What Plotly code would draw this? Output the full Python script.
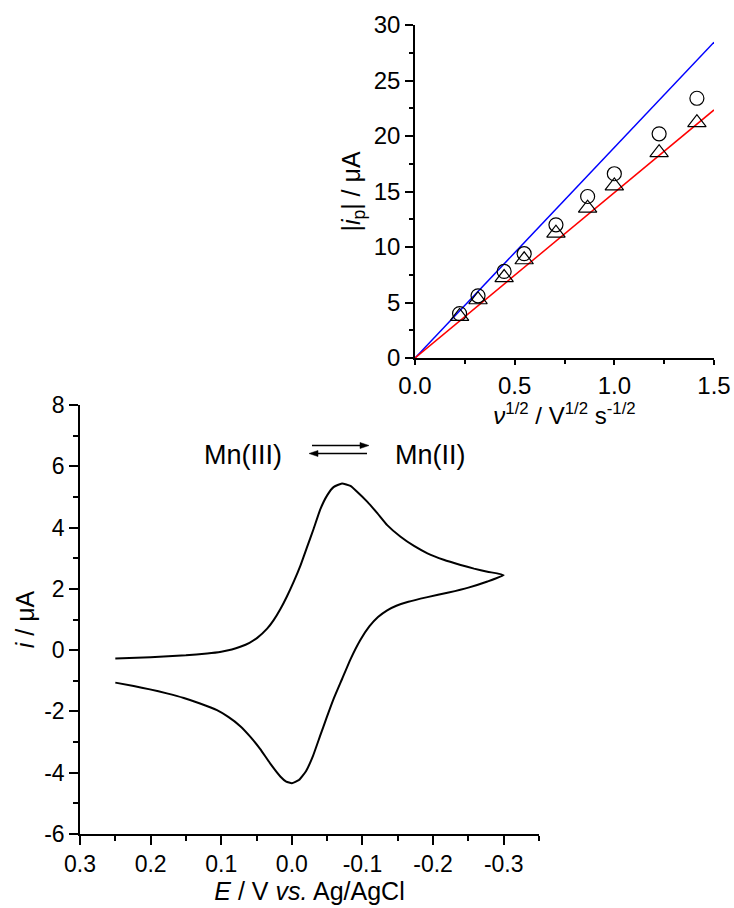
import plotly.graph_objects as go

# ---- Main CV data (E / V vs Ag/AgCl, i / uA) ----
cv_E = [0.250, 0.200, 0.150, 0.120, 0.100, 0.085, 0.073, 0.060, 0.049, 0.035, 0.026, 0.016,
        0.007, -0.003, -0.012, -0.021, -0.031, -0.040, -0.050, -0.059, -0.071, -0.083,
        -0.092, -0.107, -0.121, -0.135, -0.154, -0.173, -0.192, -0.215, -0.239, -0.258,
        -0.277, -0.300,
        -0.277, -0.250, -0.222, -0.192, -0.165, -0.148, -0.135, -0.122, -0.110, -0.097,
        -0.083, -0.071, -0.059, -0.049, -0.040, -0.030, -0.020, -0.010, 0.000, 0.008,
        0.016, 0.030, 0.045, 0.059, 0.073, 0.090, 0.106, 0.130, 0.153, 0.177, 0.201,
        0.224, 0.250]
cv_i = [-0.27, -0.23, -0.17, -0.11, -0.05, 0.02, 0.11, 0.24, 0.40, 0.70, 0.97, 1.35,
        1.75, 2.25, 2.75, 3.33, 3.97, 4.58, 5.05, 5.32, 5.44, 5.36,
        5.18, 4.84, 4.47, 4.08, 3.70, 3.40, 3.16, 2.95, 2.78, 2.66,
        2.56, 2.45,
        2.24, 2.04, 1.88, 1.73, 1.58, 1.45, 1.30, 1.08, 0.78, 0.33,
        -0.30, -0.95, -1.60, -2.22, -2.80, -3.45, -3.95, -4.24, -4.34, -4.29,
        -4.13, -3.72, -3.22, -2.82, -2.48, -2.18, -1.96, -1.74, -1.56, -1.41, -1.28,
        -1.17, -1.06]

# ---- Inset data ----
sqrt_v = [0.2236, 0.3162, 0.4472, 0.5477, 0.7071, 0.8660, 1.0, 1.2247, 1.4142]
ip_circle = [4.0, 5.6, 7.8, 9.4, 12.0, 14.55, 16.6, 20.2, 23.4]
ip_triangle = [3.75, 5.25, 7.25, 8.85, 11.25, 13.5, 15.5, 18.5, 21.2]
fit_x = [0.0, 1.5]
fit_blue = [0.0, 28.45]
fit_red = [0.0, 22.35]

# ---- Tick labels ----
main_x_vals = [0.3, 0.2, 0.1, 0.0, -0.1, -0.2, -0.3]
main_x_text = ["0.3", "0.2", "0.1", "0.0", "-0.1", "-0.2", "-0.3"]
main_y_vals = [-6, -4, -2, 0, 2, 4, 6, 8]
main_y_text = ["-6", "-4", "-2", "0", "2", "4", "6", "8"]
inset_x_vals = [0.0, 0.5, 1.0, 1.5]
inset_x_text = ["0.0", "0.5", "1.0", "1.5"]
inset_y_vals = [0, 5, 10, 15, 20, 25, 30]
inset_y_text = ["0", "5", "10", "15", "20", "25", "30"]

W, H = 734, 908
FONT = "Arial, 'Liberation Sans', sans-serif"


def px(x):
    return x / W


def py(y):
    return 1 - y / H


fig = go.Figure()
fig.add_trace(go.Scatter(x=cv_E, y=cv_i, mode="lines",
                         line=dict(color="black", width=2, shape="spline", smoothing=0.4),
                         xaxis="x", yaxis="y", showlegend=False))
fig.add_trace(go.Scatter(x=fit_x, y=fit_blue, mode="lines", line=dict(color="#0000ff", width=1.5),
                         xaxis="x2", yaxis="y2", showlegend=False))
fig.add_trace(go.Scatter(x=fit_x, y=fit_red, mode="lines", line=dict(color="#ff0000", width=1.5),
                         xaxis="x2", yaxis="y2", showlegend=False))
fig.add_trace(go.Scatter(x=sqrt_v, y=ip_circle, mode="markers",
                         marker=dict(symbol="circle-open", size=14, color="black", line=dict(width=1.2)),
                         xaxis="x2", yaxis="y2", showlegend=False))
fig.add_trace(go.Scatter(x=sqrt_v, y=ip_triangle, mode="markers",
                         marker=dict(symbol="triangle-up-open", size=16, color="black", line=dict(width=1.2)),
                         xaxis="x2", yaxis="y2", showlegend=False))

axis_common = dict(showgrid=False, zeroline=False, showline=True, linecolor="black", linewidth=1.6,
                   ticks="outside", tickcolor="black", tickwidth=1.5, ticklen=9, automargin=False,
                   tickfont=dict(family=FONT, size=23, color="black"), mirror=False)

fig.update_layout(
    width=W, height=H, autosize=False,
    margin=dict(l=0, r=0, t=0, b=0, autoexpand=False),
    paper_bgcolor="white", plot_bgcolor="white",
    xaxis=dict(axis_common, domain=[px(80), px(539)], range=[0.3, -0.35], anchor="y",
               tickmode="array", tickvals=main_x_vals, ticktext=main_x_text,
               minor=dict(ticks="outside", ticklen=5, tickwidth=1.5, tickcolor="black", dtick=0.05, tick0=0),
               title=dict(text="<i>E</i> / V <i>vs.</i> Ag/AgCl", font=dict(family=FONT, size=25, color="black"), standoff=6)),
    yaxis=dict(axis_common, domain=[py(834), py(405)], range=[-6, 8], anchor="x",
               tickmode="array", tickvals=main_y_vals, ticktext=main_y_text,
               minor=dict(ticks="outside", ticklen=5, tickwidth=1.5, tickcolor="black", dtick=1, tick0=0),
               title=dict(text="<i>i</i> / μA", font=dict(family=FONT, size=25, color="black"), standoff=2)),
    xaxis2=dict(axis_common, domain=[px(415), px(714)], range=[0, 1.5], anchor="y2",
                tickmode="array", tickvals=inset_x_vals, ticktext=inset_x_text,
                tickfont=dict(family=FONT, size=24, color="black"), ticklen=5,
                minor=dict(ticks="outside", ticklen=4, tickwidth=1.5, tickcolor="black", dtick=0.25, tick0=0),
                title=dict(text="<i>ν</i><sup>1/2</sup> / V<sup>1/2</sup> s<sup>-1/2</sup>",
                           font=dict(family=FONT, size=24, color="black"), standoff=0)),
    yaxis2=dict(axis_common, domain=[py(358), py(25)], range=[0, 30], anchor="x2",
                tickmode="array", tickvals=inset_y_vals, ticktext=inset_y_text,
                tickfont=dict(family=FONT, size=24, color="black"), ticklen=8,
                minor=dict(ticks="outside", ticklen=4, tickwidth=1.5, tickcolor="black", dtick=2.5, tick0=0),
                title=dict(text="|<i>i</i><sub>p</sub>| / μA", font=dict(family=FONT, size=25, color="black"), standoff=6)),
)

# Reaction label
fig.add_annotation(x=px(243), y=py(455), xref="paper", yref="paper", text="Mn(III)", showarrow=False,
                   xanchor="center", yanchor="middle", font=dict(family=FONT, size=27, color="black"))
fig.add_annotation(x=px(430), y=py(455), xref="paper", yref="paper", text="Mn(II)", showarrow=False,
                   xanchor="center", yanchor="middle", font=dict(family=FONT, size=27, color="black"))

# equilibrium arrows (decorative shapes)
shapes = [
    dict(type="line", xref="paper", yref="paper", x0=px(312), x1=px(362), y0=py(445.5), y1=py(445.5),
         line=dict(color="black", width=1.3)),
    dict(type="path", xref="paper", yref="paper",
         path=f"M {px(360)} {py(442.5)} L {px(369)} {py(445.5)} L {px(360)} {py(448.5)} Z",
         fillcolor="black", line=dict(color="black", width=0.5)),
    dict(type="line", xref="paper", yref="paper", x0=px(316), x1=px(367), y0=py(453.5), y1=py(453.5),
         line=dict(color="black", width=1.3)),
    dict(type="path", xref="paper", yref="paper",
         path=f"M {px(318)} {py(450.5)} L {px(309)} {py(453.5)} L {px(318)} {py(456.5)} Z",
         fillcolor="black", line=dict(color="black", width=0.5)),
]
fig.update_layout(shapes=shapes)

# remove the default page margin so the figure fills the 734x908 window exactly
fig.write_html("out.html", config={"displayModeBar": False},
               post_script="document.body.style.margin='0';document.body.style.overflow='hidden';")
